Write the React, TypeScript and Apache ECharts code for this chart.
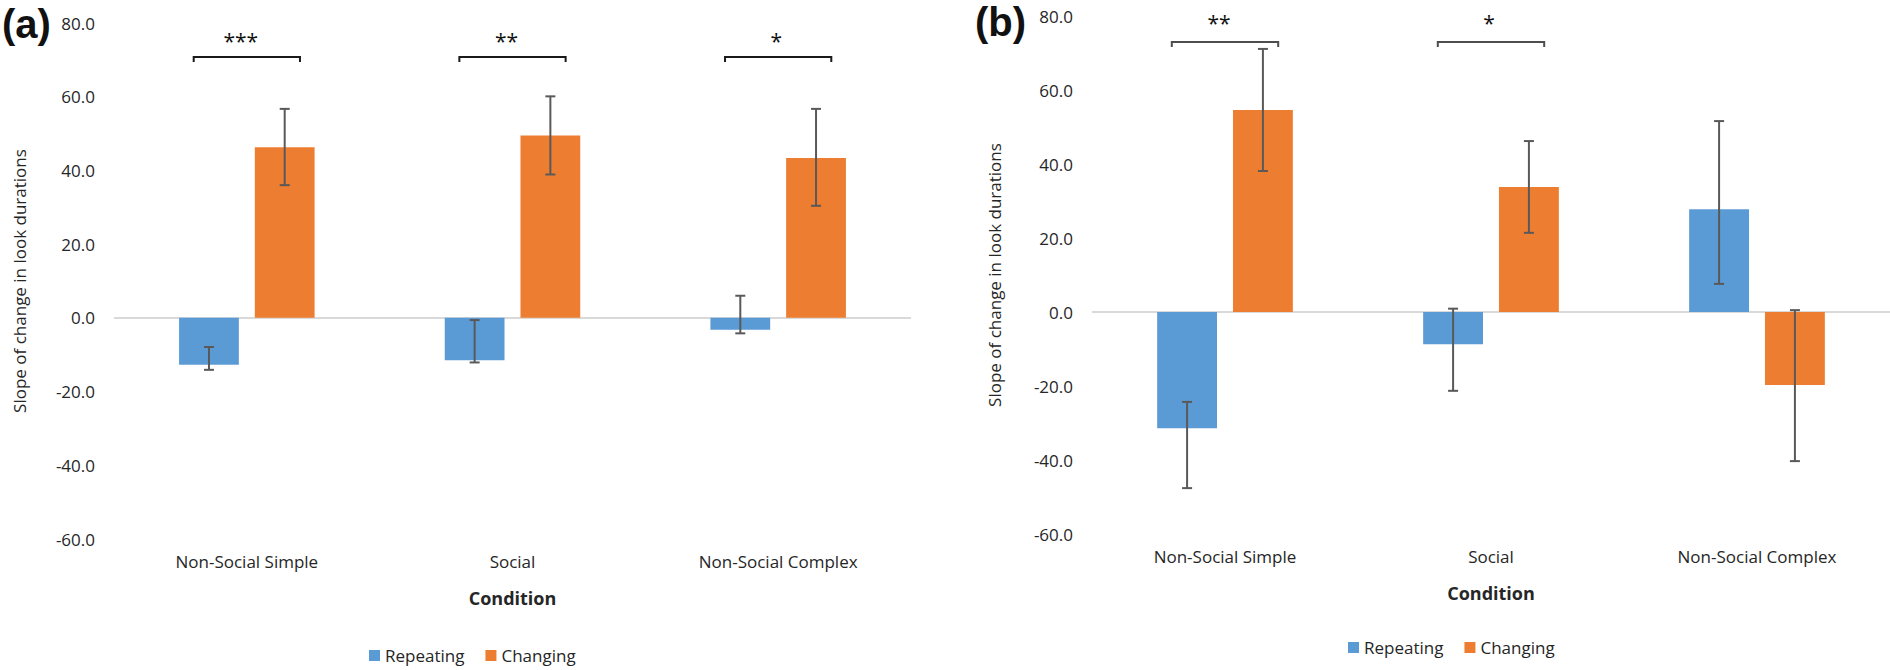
import React, { useEffect, useRef } from "react";
import * as echarts from "echarts";

const categories = ["Non-Social Simple", "Social", "Non-Social Complex"];
const seriesNames = ["Repeating", "Changing"];

// Panel (a)
const repeatingA = [-12.7, -11.5, -3.2];
const repeatingALow = [-14.1, -12.1, -4.2];
const repeatingAHigh = [-7.9, -0.6, 6.0];
const changingA = [46.3, 49.5, 43.4];
const changingALow = [36.0, 38.9, 30.4];
const changingAHigh = [56.7, 60.1, 56.7];
const sigA = ["***", "**", "*"];
const sigACats = [0, 1, 2];
const sigABracketY = 70.8;
const sigAStarY = 76.7;

// Panel (b)
const repeatingB = [-31.4, -8.7, 27.8];
const repeatingBLow = [-47.6, -21.3, 7.6];
const repeatingBHigh = [-24.3, 0.9, 51.6];
const changingB = [54.6, 33.8, -19.7];
const changingBLow = [38.1, 21.4, -40.3];
const changingBHigh = [71.1, 46.2, 0.5];
const sigB = ["**", "*"];
const sigBCats = [0, 1];
const sigBBracketY = 73.0;
const sigBStarY = 79.7;

const yTicksMin = -60;
const yTicksMax = 80;
const yTicksStep = 20;

const BLUE = "#5B9BD5";
const ORANGE = "#ED7D31";
const ERR = "#595959";
const FONT = "'Open Sans', 'Noto Sans', sans-serif";
const BAR_W = 0.225;
const BAR_GAP = 0.267;

function errSeries(axis: number, low: number[], high: number[], sign: number) {
  return {
    type: "custom",
    xAxisIndex: axis,
    yAxisIndex: axis,
    z: 5,
    silent: true,
    encode: { x: 0, y: [1, 2] },
    data: low.map((l, i) => [i, l, high[i]]),
    renderItem: (params: any, api: any) => {
      const idx = api.value(0);
      const bw = api.size([1, 0])[0];
      const off = sign * bw * (BAR_W + BAR_W * BAR_GAP) / 2;
      const lo = api.coord([idx, api.value(1)]);
      const hi = api.coord([idx, api.value(2)]);
      const x = lo[0] + off;
      const cap = 5;
      const st = { stroke: ERR, lineWidth: 2, fill: null };
      return {
        type: "group",
        children: [
          { type: "line", shape: { x1: x, y1: lo[1], x2: x, y2: hi[1] }, style: st },
          { type: "line", shape: { x1: x - cap, y1: lo[1], x2: x + cap, y2: lo[1] }, style: st },
          { type: "line", shape: { x1: x - cap, y1: hi[1], x2: x + cap, y2: hi[1] }, style: st },
        ],
      };
    },
  };
}

function sigSeries(axis: number, cats: number[], labels: string[], by: number, sy: number, color: string) {
  return {
    type: "custom",
    xAxisIndex: axis,
    yAxisIndex: axis,
    z: 6,
    silent: true,
    encode: { x: 0, y: [1, 2] },
    data: cats.map((c) => [c, by, sy]),
    renderItem: (params: any, api: any) => {
      const idx = api.value(0);
      const bw = api.size([1, 0])[0];
      const half = bw * 0.2;
      const b = api.coord([idx, api.value(1)]);
      const s = api.coord([idx, api.value(2)]);
      const x = b[0];
      const y = b[1];
      const text = labels[params.dataIndex];
      return {
        type: "group",
        children: [
          {
            type: "polyline",
            shape: { points: [[x - half, y + 5], [x - half, y], [x + half, y], [x + half, y + 5]] },
            style: { stroke: color, lineWidth: 2, fill: null },
          },
          {
            type: "text",
            x: x - (text.length > 1 ? 6 : 2),
            y: s[1] + 6,
            style: {
              text,
              textAlign: "center",
              textVerticalAlign: "middle",
              fontSize: 21,
              fontFamily: FONT,
              fill: "#111",
            },
          },
        ],
      };
    },
  };
}

function barSeries(axis: number, name: string, data: number[], color: string, zeroLine: boolean) {
  const s: any = {
    type: "bar",
    name,
    xAxisIndex: axis,
    yAxisIndex: axis,
    data,
    barWidth: `${BAR_W * 100}%`,
    barGap: `${BAR_GAP * 100}%`,
    itemStyle: { color },
  };
  if (zeroLine) {
    s.markLine = {
      silent: true,
      symbol: "none",
      label: { show: false },
      lineStyle: { color: "#D9D9D9", width: 2, type: "solid" },
      data: [{ yAxis: 0 }],
      z: 1,
    };
  }
  return s;
}

function xAxis(grid: number) {
  return {
    type: "category",
    gridIndex: grid,
    data: categories,
    axisLine: { show: false },
    axisTick: { show: false },
    axisLabel: { fontSize: 17, fontFamily: FONT, color: "#262626", margin: 14 },
    name: "Condition",
    nameLocation: "middle",
    nameGap: 50,
    nameTextStyle: { fontSize: 18, fontWeight: "bold", fontFamily: FONT, color: "#262626" },
  };
}

function yAxis(grid: number, gap: number) {
  return {
    type: "value",
    gridIndex: grid,
    min: yTicksMin,
    max: yTicksMax,
    interval: yTicksStep,
    axisLine: { show: false },
    axisTick: { show: false },
    splitLine: { show: false },
    axisLabel: {
      fontSize: 17,
      fontFamily: FONT,
      color: "#262626",
      margin: 19,
      formatter: (v: number) => v.toFixed(1),
    },
    name: "Slope of change in look durations",
    nameLocation: "middle",
    nameGap: gap,
    nameTextStyle: { fontSize: 17, fontFamily: FONT, color: "#262626" },
  };
}

function legend(left: number, top: number) {
  return {
    left,
    top,
    data: seriesNames,
    icon: "rect",
    itemWidth: 11,
    itemHeight: 11,
    itemGap: 21,
    textStyle: { fontSize: 17, fontFamily: FONT, color: "#262626" },
  };
}

export default function App() {
  const ref = useRef<HTMLDivElement>(null);
  useEffect(() => {
    if (!ref.current) return;
    const chart = echarts.init(ref.current, undefined, { renderer: "svg" });
    chart.setOption({
      animation: false,
      backgroundColor: "#fff",
      grid: [
        { left: 114, top: 23, width: 797, height: 516 },
        { left: 1092, top: 16, width: 798, height: 518 },
      ],
      xAxis: [xAxis(0), xAxis(1)],
      yAxis: [yAxis(0, 86), yAxis(1, 89)],
      legend: [legend(364, 642), legend(1343, 634)],
      graphic: [
        { type: "text", left: 2, top: 4, style: { text: "(a)", fontSize: 40, fontWeight: "bold", fontFamily: "'Liberation Sans', Arial, sans-serif", fill: "#111" } },
        { type: "text", left: 975, top: 2, style: { text: "(b)", fontSize: 40, fontWeight: "bold", fontFamily: "'Liberation Sans', Arial, sans-serif", fill: "#111" } },
      ],
      series: [
        barSeries(0, seriesNames[0], repeatingA, BLUE, true),
        barSeries(0, seriesNames[1], changingA, ORANGE, false),
        barSeries(1, seriesNames[0], repeatingB, BLUE, true),
        barSeries(1, seriesNames[1], changingB, ORANGE, false),
        errSeries(0, repeatingALow, repeatingAHigh, -1),
        errSeries(0, changingALow, changingAHigh, 1),
        errSeries(1, repeatingBLow, repeatingBHigh, -1),
        errSeries(1, changingBLow, changingBHigh, 1),
        sigSeries(0, sigACats, sigA, sigABracketY, sigAStarY, "#1a1a1a"),
        sigSeries(1, sigBCats, sigB, sigBBracketY, sigBStarY, "#4d4d4d"),
      ],
    });
    return () => chart.dispose();
  }, []);
  return (
    <div
      ref={ref}
      style={{ position: "fixed", left: 0, top: 0, width: 1890, height: 670, background: "#fff" }}
    />
  );
}
